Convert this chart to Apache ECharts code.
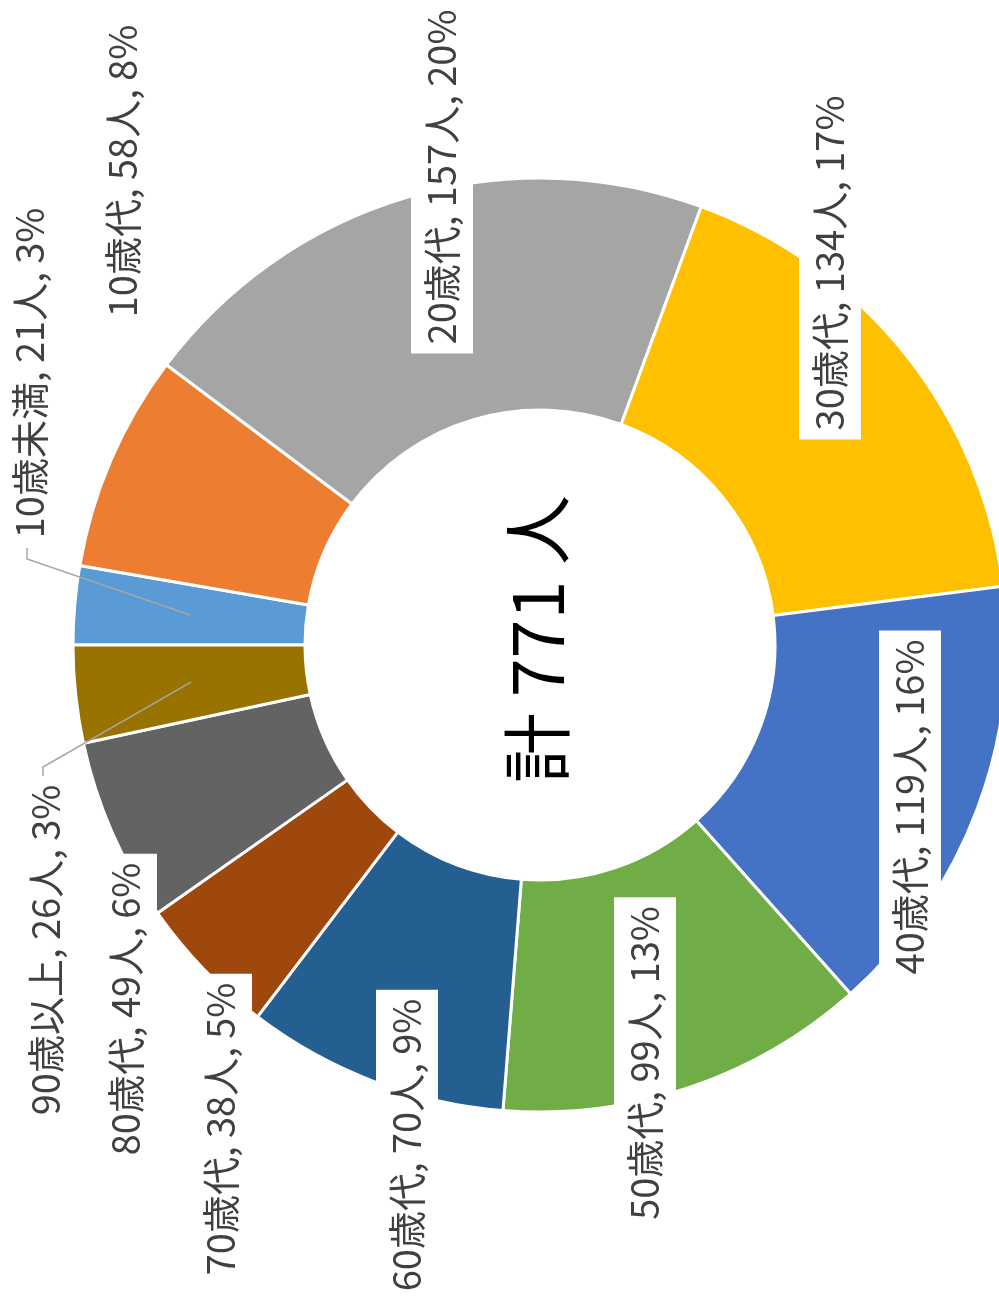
<!DOCTYPE html>
<html>
<head>
<meta charset="utf-8">
<script src="https://cdn.jsdelivr.net/npm/echarts@6/dist/echarts.min.js"></script>
<style>
html,body{margin:0;padding:0;background:#fff;}
#chart{width:999px;height:1301px;}
</style>
</head>
<body>
<div id="chart"></div>
<script>
// ---- data ----
const categories = ['10歳未満','10歳代','20歳代','30歳代','40歳代','50歳代','60歳代','70歳代','80歳代','90歳以上'];
const counts = [21, 58, 157, 134, 119, 99, 70, 38, 49, 26];
const palette = ['#5B9BD5','#ED7D31','#A5A5A5','#FFC000','#4472C4','#70AD47','#255E91','#9E480E','#636363','#997300'];

// ---- layout ----
const CX = 540, CY = 645, R_IN = 235, R_OUT = 467;
const FONT = '"Noto Sans CJK JP", "Noto Sans", sans-serif';
// label centres (Excel "best fit" placement)
const labelPos = [
  [30, 373], [123, 171], [442, 177], [830, 263], [910, 807],
  [645, 1063], [407, 1145], [221, 1129], [126, 1009], [46, 950]
];
// leader line elbows for labels placed away from their slices
const leaderElbows = {
  0: [[27, 559], [27, 548]],
  9: [[43, 767], [43, 777]]
};

const total = counts.reduce((a, b) => a + b, 0);
const midAngles = [];
(function () {
  let acc = 0;
  counts.forEach(v => { midAngles.push((acc + v / 2) / total * 2 * Math.PI); acc += v; });
})();

const sliceData = categories.map((name, i) => ({ name: name, value: counts[i] }));
const labelData = categories.map((name, i) => ({
  name: name,
  value: counts[i],
  labelLine: { show: !!leaderElbows[i], showAbove: true }
}));

const common = {
  type: 'pie',
  center: [CX, CY],
  radius: [R_IN, R_OUT],
  startAngle: 180,
  clockwise: true,
  percentPrecision: 0,
  avoidLabelOverlap: false,
  emphasis: { disabled: true }
};

const chart = echarts.init(document.getElementById('chart'), null, { renderer: 'canvas' });
chart.setOption({
  animation: false,
  color: palette,
  series: [
    Object.assign({}, common, {
      name: 'slices',
      z: 2,
      itemStyle: { borderColor: '#ffffff', borderWidth: 3 },
      label: { show: false },
      labelLine: { show: false },
      data: sliceData
    }),
    Object.assign({}, common, {
      name: 'labels',
      z: 5,
      silent: true,
      itemStyle: { color: 'rgba(0,0,0,0)', borderWidth: 0 },
      label: {
        show: true,
        position: 'outside',
        formatter: '{b}, {c}人, {d}%',
        rotate: 90,
        color: '#404040',
        fontSize: 38,
        fontFamily: FONT,
        backgroundColor: '#ffffff',
        padding: [12, 9, 12, 9]
      },
      labelLine: {
        show: true,
        showAbove: true,
        lineStyle: { color: '#A6A6A6', width: 1.5 }
      },
      labelLayout: function (p) {
        const i = p.dataIndex;
        const out = {
          x: labelPos[i][0], y: labelPos[i][1], rotate: 90,
          align: 'center', verticalAlign: 'middle'
        };
        if (leaderElbows[i]) {
          // start at the slice's mid-point (mid radius, mid angle); angle runs clockwise from 9 o'clock
          const a = Math.PI - midAngles[i];
          const rm = (R_IN + R_OUT) / 2;
          out.labelLinePoints = [
            [CX + rm * Math.cos(a), CY - rm * Math.sin(a)],
            leaderElbows[i][0], leaderElbows[i][1]
          ];
        }
        return out;
      },
      data: labelData
    })
  ],
  graphic: [{
    type: 'text',
    x: CX - 3,
    y: CY - 6,
    rotation: Math.PI / 2,
    style: {
      text: '計 ' + total + ' 人',
      font: '70px ' + FONT,
      fill: '#000000',
      align: 'center',
      verticalAlign: 'middle'
    }
  }]
});
</script>
</body>
</html>
